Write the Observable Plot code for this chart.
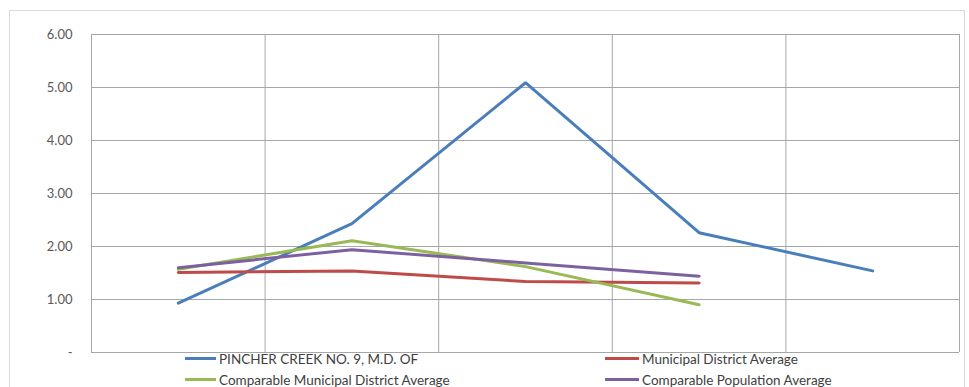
<!DOCTYPE html>
<html>
<head>
<meta charset="utf-8">
<script src="https://cdn.jsdelivr.net/npm/d3@7"></script>
<script src="https://cdn.jsdelivr.net/npm/@observablehq/plot@0.6"></script>
<style>
  html, body { margin: 0; padding: 0; background: #fff; }
  body { width: 969px; height: 387px; overflow: hidden; position: relative; font-family: Lato, "Open Sans", sans-serif; }
  #frame { position: absolute; left: 9px; top: 10px; width: 956px; height: 400px; border: 1px solid #d9d9d9; box-sizing: border-box; }
  #chart { position: absolute; left: 0; top: 0; }
  #chart svg { overflow: visible; }
  #legend { position: absolute; left: 0; top: 348px; width: 969px; font-size: 13.5px; color: #404040; }
  .item { position: absolute; display: flex; align-items: center; white-space: nowrap; height: 21px; }
  .swatch { display: inline-block; height: 3px; margin-right: 3px; }
</style>
</head>
<body>
<div id="frame"></div>
<div id="chart"></div>
<div id="legend"></div>
<script>
const categories = ["1", "2", "3", "4", "5"];
const seriesNames = [
  "PINCHER CREEK NO. 9, M.D. OF",
  "Municipal District Average",
  "Comparable Municipal District Average",
  "Comparable Population Average"
];
const pincherCreek = [0.93, 2.43, 5.09, 2.26, 1.54];
const mdAverage = [1.51, 1.54, 1.34, 1.31];
const comparableMdAverage = [1.57, 2.11, 1.62, 0.90];
const comparablePopAverage = [1.60, 1.94, 1.69, 1.44];
const colors = ["#4a7ebb", "#be4b48", "#98b954", "#7d60a0"];
const yTicks = [0, 1, 2, 3, 4, 5, 6];

const allSeries = [pincherCreek, mdAverage, comparableMdAverage, comparablePopAverage];
const data = [];
allSeries.forEach((vals, s) => {
  vals.forEach((v, i) => data.push({series: seriesNames[s], idx: i + 0.5, cat: categories[i], value: v}));
});

const fmt = d => d === 0 ? "-" : d3.format(".2f")(d);

const chart = Plot.plot({
  width: 969,
  height: 354,
  marginTop: 34,
  marginBottom: 2,
  marginLeft: 91,
  marginRight: 10,
  style: { fontFamily: "Lato, 'Open Sans', sans-serif", fontSize: "13px", color: "#595959", background: "transparent", overflow: "visible" },
  x: { type: "linear", domain: [0, categories.length], axis: null },
  y: { domain: [0, 6], ticks: yTicks, label: null, tickFormat: fmt },
  color: { domain: seriesNames, range: colors },
  marks: [
    Plot.gridY(yTicks, { stroke: "#a6a6a6", strokeOpacity: 1, strokeWidth: 1 }),
    Plot.gridX(d3.range(categories.length + 1), { stroke: "#a6a6a6", strokeOpacity: 1, strokeWidth: 1 }),
    Plot.axisY(yTicks, { tickSize: 0, tickPadding: 19, fill: "#595959", fontSize: 13, label: null, tickFormat: fmt }),
    Plot.line(data, { x: "idx", y: "value", z: "series", stroke: "series", strokeWidth: 3, strokeLinejoin: "miter", strokeLinecap: "round" })
  ]
});
document.getElementById("chart").appendChild(chart);

const legendPos = [
  { left: 185, top: 0, w: 31 },
  { left: 605, top: 0, w: 34 },
  { left: 185, top: 21, w: 31 },
  { left: 605, top: 21, w: 34 }
];
const legend = document.getElementById("legend");
seriesNames.forEach((name, i) => {
  const item = document.createElement("div");
  item.className = "item";
  item.style.left = legendPos[i].left + "px";
  item.style.top = legendPos[i].top + "px";
  const sw = document.createElement("span");
  sw.className = "swatch";
  sw.style.width = legendPos[i].w + "px";
  sw.style.background = colors[i];
  const t = document.createElement("span");
  t.textContent = name;
  item.appendChild(sw);
  item.appendChild(t);
  legend.appendChild(item);
});
</script>
</body>
</html>
